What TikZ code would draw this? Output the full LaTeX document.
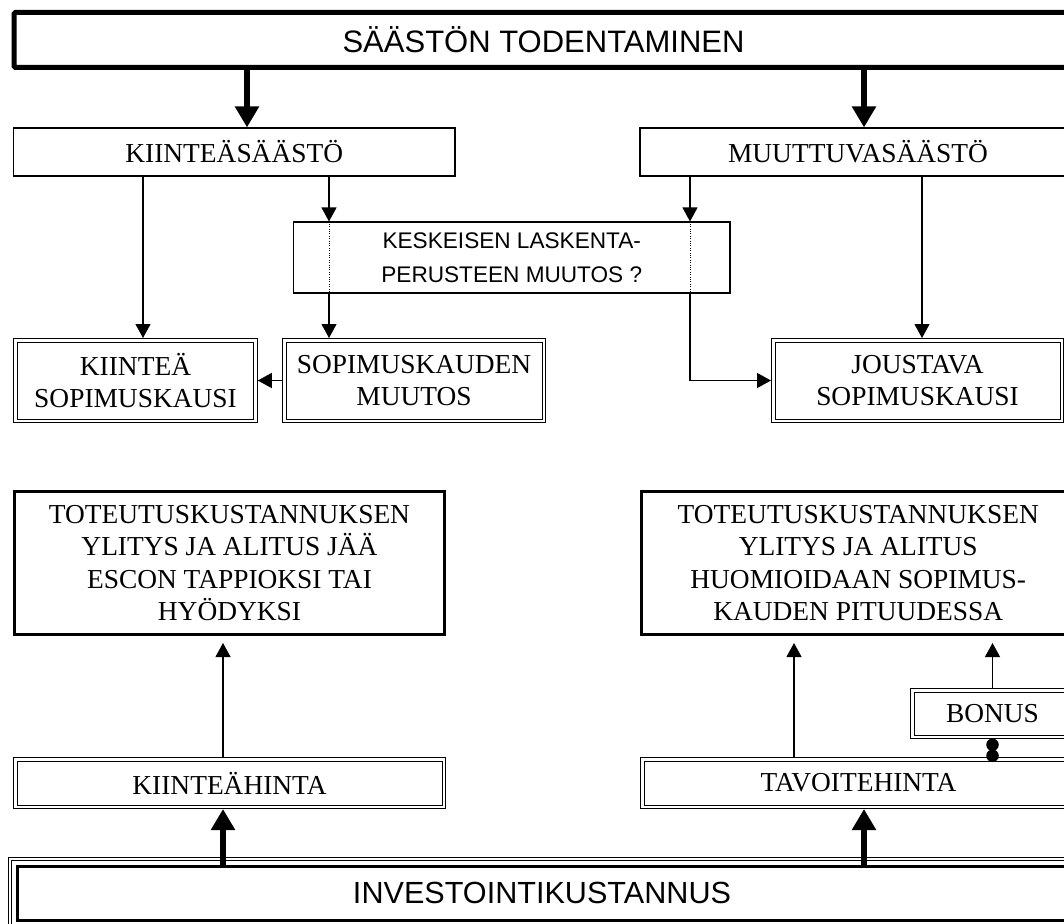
\documentclass[tikz,border=0pt]{standalone}
\usepackage{fontspec}
\setmainfont{Liberation Serif}
\newfontfamily\arialfont{Liberation Sans}
\usetikzlibrary{arrows.meta}

\tikzset{
        box/.style={draw, line width=1.1pt, inner sep=0pt, outer sep=.55pt, align=center,
                font=\fontsize{27.4}{32.5}\selectfont},
        dbox/.style={box, line width=1pt, double, double distance=2.5pt, outer sep=2.25pt},
        thickbox/.style={box, line width=3pt, outer sep=1.5pt},
        sansbox/.style={box, font=\arialfont\fontsize{22.6}{34}\selectfont},
        thin arrow/.style={line width=1.1pt, -{Triangle[width=15pt,length=14pt]}},
        heavy arrow/.style={line width=5.5pt, -{Triangle[width=23pt,length=21pt]}},
        dotline/.style={line width=.8pt, dash pattern=on .8pt off 1.6pt},
}

\begin{document}
\begin{tikzpicture}[x=1pt, y=-1pt]
        \useasboundingbox (0,0) rectangle (1064,923);
        \clip (0,0) rectangle (1064,923);

        % columns of the connectors
        \coordinate (heavyL) at (247,0);
        \coordinate (heavyR) at (864,0);
        \coordinate (colA) at (143,0);
        \coordinate (colB) at (329,0);
        \coordinate (colC) at (690,0);
        \coordinate (colD) at (922,0);
        \coordinate (colE) at (223,0);
        \coordinate (colF) at (794,0);

        \node[box, line width=5pt, outer sep=2.5pt, rounded corners=1.5pt,
                font=\arialfont\fontsize{31}{36}\selectfont,
                minimum width=1059pt, minimum height=55pt] (saasto) at (543.5,40) {SÄÄSTÖN TODENTAMINEN};

        \node[box, minimum width=441.5pt, minimum height=48pt] (kiinteasaasto) at (234.25,152) {KIINTEÄSÄÄSTÖ};
        \node[box, minimum width=436pt, minimum height=48pt] (muuttuva) at (858,152) {MUUTTUVASÄÄSTÖ};

        \node[sansbox, minimum width=436.5pt, minimum height=71pt] (keskeinen) at (511.75,257.5)
                {KESKEISEN LASKENTA-\\PERUSTEEN MUUTOS ?};

        \node[dbox, minimum width=240pt, minimum height=80.5pt] (kiintsop) at (135.5,380.5) {KIINTEÄ\\SOPIMUSKAUSI};
        \node[dbox, minimum width=259.5pt, minimum height=80.5pt] (sopmuutos) at (414,380.5) {SOPIMUSKAUDEN\\MUUTOS};
        \node[dbox, minimum width=288.5pt, minimum height=80.5pt] (joustava) at (917.5,380.5) {JOUSTAVA\\SOPIMUSKAUSI};

        \node[thickbox, minimum width=430pt, minimum height=143pt] (toteutusL) at (229.5,563)
                {TOTEUTUSKUSTANNUKSEN\\YLITYS JA ALITUS JÄÄ\\ESCON TAPPIOKSI TAI\\HYÖDYKSI};
        \node[thickbox, minimum width=433.5pt, minimum height=143pt] (toteutusR) at (858.25,563)
                {TOTEUTUSKUSTANNUKSEN\\YLITYS JA ALITUS\\HUOMIOIDAAN SOPIMUS-\\KAUDEN PITUUDESSA};

        \node[dbox, minimum width=160.5pt, minimum height=46.5pt] (bonus) at (992.5,713.5) {BONUS};
        \node[dbox, minimum width=428.5pt, minimum height=47.5pt] (kiintehinta) at (229.5,783) {KIINTEÄHINTA};
        \node[dbox, minimum width=432.5pt, minimum height=47.5pt] (tavoite) at (858.5,783) {TAVOITEHINTA};

        \node[thickbox, font=\arialfont\fontsize{30.6}{36}\selectfont,
                minimum width=1049pt, minimum height=53.5pt] (invest) at (542,893.25) {INVESTOINTIKUSTANNUS};
        \draw[line width=1pt, double, double distance=2.5pt]
                ([shift={(-6,-6)}]invest.north west) rectangle ([shift={(6,6)}]invest.south east);

        % from the top
        \draw[heavy arrow] (saasto.south -| heavyL) -- (kiinteasaasto.north -| heavyL);
        \draw[heavy arrow] (saasto.south -| heavyR) -- (muuttuva.north -| heavyR);

        \draw[thin arrow] (kiinteasaasto.south -| colA) -- (kiintsop.north -| colA);
        \draw[thin arrow] (kiinteasaasto.south -| colB) -- (keskeinen.north -| colB);
        \draw[dotline] (keskeinen.north -| colB) -- (keskeinen.south -| colB);
        \draw[thin arrow] (keskeinen.south -| colB) -- (sopmuutos.north -| colB);

        \draw[thin arrow] (muuttuva.south -| colC) -- (keskeinen.north -| colC);
        \draw[dotline] (keskeinen.north -| colC) -- (keskeinen.south -| colC);
        \draw[thin arrow] (keskeinen.south -| colC) |- (joustava.west);
        \draw[thin arrow] (muuttuva.south -| colD) -- (joustava.north -| colD);

        \draw[thin arrow] (sopmuutos.west) -- (kiintsop.east);

        % from the bottom
        \draw[heavy arrow] (invest.north -| colE) -- (kiintehinta.south -| colE);
        \draw[heavy arrow] (invest.north -| heavyR) -- (tavoite.south -| heavyR);

        \draw[thin arrow, shorten >=7pt] (kiintehinta.north -| colE) -- (toteutusL.south -| colE);
        \draw[thin arrow, shorten >=7pt] (tavoite.north -| colF) -- (toteutusR.south -| colF);
        \draw[thin arrow, shorten >=7pt] (bonus.north) -- (toteutusR.south -| bonus.north);
        \draw[line width=1.1pt, {Circle[length=12.5pt,width=12.5pt]}-{Circle[length=12.5pt,width=12.5pt]},
                shorten <=-.5pt, shorten >=-5pt] (bonus.south) -- (tavoite.north -| bonus.south);
\end{tikzpicture}
\end{document}
